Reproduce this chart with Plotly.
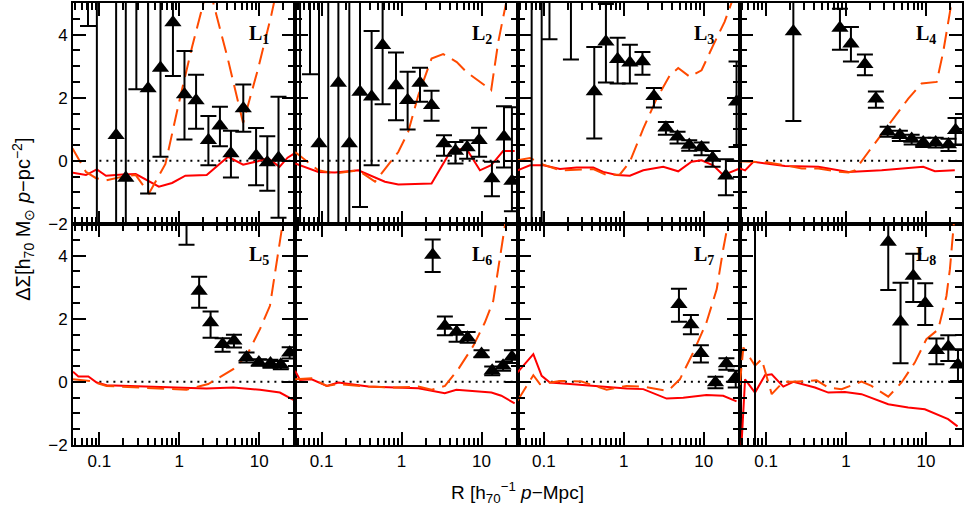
import numpy as np
import plotly.graph_objects as go
from plotly.subplots import make_subplots

RED = "#FF0000"
ORANGE = "#FF4A00"
BLACK = "#000000"

X_RANGE_LOG = [-1.33, 1.45]
Y_RANGE = [-2, 5]
ZERO_R = [0.1, 28.2]
ZERO_DS = [0, 0]
LABELS = ["L<sub>1</sub>", "L<sub>2</sub>", "L<sub>3</sub>", "L<sub>4</sub>",
          "L<sub>5</sub>", "L<sub>6</sub>", "L<sub>7</sub>", "L<sub>8</sub>"]

# ---- L1 ----
L1_R = [0.072, 0.093, 0.162, 0.214, 0.29, 0.407, 0.581, 0.832, 1.16, 1.62, 2.31, 3.22, 4.42, 6.31, 9.12, 12.6, 17.4]
L1_DS = [6, 7, 0.81, -0.54, 6, 2.29, 2.94, 4.38, 2.10, 1.91, 0.65, 1.11, 0.23, 1.66, 0.16, -0.05, 0.09]
L1_HI = [8, 12, 9, 9, 10, 8, 7, 6, 3.48, 2.73, 1.42, 1.71, 0.95, 2.42, 1.04, 0.78, 2.03]
L1_LO = [4.27, -9, -9, -9, 2.27, -1.03, 0.13, 2.69, 0.675, 1.02, -0.14, 0.46, -0.53, 0.92, -0.77, -0.95, -1.80]
L1_SOLID_R = [0.046, 0.068, 0.093, 0.121, 0.195, 0.285, 0.555, 0.811, 1.19, 2.20, 4.07, 6.28, 9.62, 12.8, 17.9, 22.6, 28.2]
L1_SOLID = [-0.37, -0.45, -0.27, -0.47, -0.43, -0.42, -0.82, -0.70, -0.47, -0.45, 0.13, -0.12, -0.01, 0.09, -0.19, 0.1, 0.25]
L1_DASH_R = [0.046, 0.068, 0.091, 0.121, 0.195, 0.285, 0.417, 0.67, 0.98, 1.44, 2.31, 4.07, 6.28, 9.62, 14.1, 22.6]
L1_DASH = [0.4, -0.35, -0.55, -0.62, -0.5, -0.45, -1.03, -0.1, 1.8, 3.6, 5.6, 3.2, 1.2, 2.9, 4.6, 7]

# ---- L2 ----
L2_R = [0.0537, 0.0715, 0.0927, 0.121, 0.162, 0.222, 0.302, 0.422, 0.579, 0.851, 1.19, 1.70, 2.37, 3.39, 4.72, 6.61, 9.33, 13.5, 19.1, 24.0]
L2_DS = [7, 6, 0.55, 7, 2.47, 0.55, 2.18, 2.03, 3.66, 2.39, 1.92, 2.47, 1.76, 0.55, 0.31, 0.42, 0.65, -0.56, 0.76, -0.64]
L2_HI = [12, 9, 9, 12, 9, 9, 8, 4.11, 7, 3.43, 2.82, 2.95, 2.22, 0.81, 0.60, 0.65, 1.05, -0.03, 1.73, 1.7]
L2_LO = [-9, 2.74, -9, -9, -9, -9, -1.46, -0.14, 1.79, 1.29, 0.99, 1.87, 1.27, 0.16, -0.08, 0.07, 0.13, -1.12, -0.21, -1.6]
L2_SOLID_R = [0.0465, 0.062, 0.091, 0.147, 0.288, 0.619, 0.91, 2.37, 4.17, 6.46, 9.55, 13.2, 18.6, 26.0]
L2_SOLID = [-0.08, -0.19, -0.35, -0.37, -0.30, -0.66, -0.75, -0.72, 0.34, 0.39, -0.30, -0.14, 0.31, 0.31]
L2_DASH_R = [0.0465, 0.062, 0.091, 0.147, 0.288, 0.465, 0.91, 1.21, 1.62, 2.37, 3.31, 4.90, 6.46, 13.2, 16.2, 20.4, 25.0]
L2_DASH = [0.28, 0.02, -0.30, -0.40, -0.30, -0.66, 0.28, 0.92, 2.08, 3.24, 3.38, 3.13, 2.82, 2.24, 3.77, 5.03, 7]

# ---- L3 ----
L3_R = [0.0703, 0.0938, 0.1175, 0.218, 0.427, 0.597, 0.836, 1.19, 1.71, 2.38, 3.36, 4.70, 6.58, 9.38, 12.9, 18.9, 25.7]
L3_DS = [7, 7, 6, 6, 2.20, 3.77, 3.22, 3.11, 3.15, 2.05, 1.05, 0.76, 0.50, 0.42, 0.09, -0.47, 1.87]
L3_HI = [12, 12, 9, 9, 3.61, 4.97, 3.90, 3.68, 3.45, 2.31, 1.23, 0.92, 0.65, 0.58, 0.31, 0.05, 3.15]
L3_LO = [-9, -9, 3.85, 3.21, 0.71, 2.48, 2.45, 2.45, 2.73, 1.69, 0.83, 0.55, 0.32, 0.18, -0.19, -1.09, 0.44]
L3_SOLID_R = [0.0468, 0.067, 0.0984, 0.159, 0.257, 0.415, 0.553, 0.813, 1.19, 1.75, 3.11, 4.79, 7.03, 9.38, 13.1, 17.5, 28.2]
L3_SOLID = [-0.30, -0.14, -0.14, -0.26, -0.21, -0.21, -0.35, -0.45, -0.47, -0.30, -0.19, -0.33, -0.03, 0.02, -0.14, -0.45, -0.24]
L3_DASH_R = [0.0468, 0.067, 0.0984, 0.159, 0.415, 0.61, 0.893, 1.19, 1.75, 2.57, 3.77, 4.79, 6.70, 9.38, 13.1, 18.2, 22.4, 28.2]
L3_DASH = [0.02, 0.09, -0.12, -0.30, -0.26, -0.45, -0.43, -0.03, 1.02, 1.97, 2.71, 2.94, 2.66, 2.87, 3.66, 4.40, 5.03, 6.2]

# ---- L4 ----
L4_R = [0.219, 0.838, 1.15, 1.72, 2.36, 3.31, 4.71, 6.61, 9.23, 13.2, 19.1, 23.4]
L4_DS = [4.10, 4.21, 3.71, 3.06, 1.97, 0.92, 0.81, 0.69, 0.58, 0.58, 0.52, 0.97]
L4_HI = [7, 4.82, 4.24, 3.37, 2.20, 1.08, 0.95, 0.83, 0.73, 0.73, 0.70, 1.36]
L4_LO = [1.26, 3.52, 3.15, 2.71, 1.68, 0.76, 0.63, 0.52, 0.44, 0.42, 0.31, 0.52]
L4_SOLID_R = [0.0468, 0.0545, 0.0692, 0.106, 0.172, 0.45, 1.07, 2.79, 9.23, 12.9, 22.9]
L4_SOLID = [-0.24, -0.30, -0.03, -0.08, -0.16, -0.19, -0.35, -0.30, -0.19, -0.33, -0.30]
L4_DASH_R = [0.0468, 0.106, 0.172, 0.279, 0.45, 0.728, 1.07, 1.29, 1.90, 3.37, 6.0, 8.81, 13.6, 16.4, 19.0, 20.9, 25.0]
L4_DASH = [-0.01, -0.05, -0.14, -0.24, -0.24, -0.33, -0.37, -0.30, 0.28, 1.13, 1.97, 2.45, 2.50, 3.45, 4.40, 5.03, 7]

# ---- L5 ----
L5_R = [1.23, 1.77, 2.46, 3.48, 4.82, 6.93, 9.89, 13.8, 18.6, 24.0]
L5_DS = [6, 2.88, 1.88, 1.19, 1.30, 0.77, 0.61, 0.58, 0.54, 0.92]
L5_HI = [9, 3.33, 2.23, 1.38, 1.49, 0.93, 0.72, 0.70, 0.66, 1.10]
L5_LO = [4.34, 2.35, 1.40, 0.95, 1.09, 0.61, 0.51, 0.45, 0.40, 0.74]
L5_SOLID_R = [0.0468, 0.0546, 0.0728, 0.0925, 0.123, 0.219, 0.573, 2.19, 4.72, 10.2, 18.1, 24.2, 28.2]
L5_SOLID = [0.32, 0.17, 0.17, -0.02, -0.11, -0.13, -0.18, -0.21, -0.18, -0.25, -0.34, -0.52, -0.6]
L5_DASH_R = [0.0468, 0.0762, 0.123, 0.39, 1.23, 2.30, 3.22, 4.72, 6.93, 10.2, 13.6, 16.4, 19.0, 21.9]
L5_DASH = [0.08, 0.03, -0.13, -0.20, -0.25, -0.07, 0.14, 0.40, 0.82, 1.67, 2.41, 3.67, 4.67, 5.8]

# ---- L6 ----
L6_R = [2.45, 3.48, 4.88, 6.70, 10.0, 13.6, 18.6, 24.0]
L6_DS = [4.02, 1.77, 1.58, 1.40, 0.88, 0.35, 0.51, 0.79]
L6_HI = [4.51, 2.07, 1.80, 1.58, 1.0, 0.49, 0.64, 1.0]
L6_LO = [3.48, 1.48, 1.27, 1.24, 0.78, 0.21, 0.35, 0.6]
L6_SOLID_R = [0.0465, 0.0537, 0.075, 0.116, 0.162, 0.384, 0.826, 1.62, 3.47, 4.85, 13.3, 17.7, 26.0]
L6_SOLID = [0.35, 0.06, 0.08, -0.13, -0.02, -0.15, -0.18, -0.20, -0.36, -0.25, -0.34, -0.44, -0.68]
L6_DASH_R = [0.0465, 0.075, 0.116, 0.162, 0.384, 0.826, 1.62, 2.38, 3.49, 5.12, 7.89, 11.0, 14.0, 16.2, 19.6, 22.9]
L6_DASH = [0.08, 0.11, -0.13, -0.07, -0.15, -0.18, -0.15, -0.25, -0.13, 0.40, 1.14, 1.88, 2.56, 3.57, 4.94, 6.5]

# ---- L7 ----
L7_R = [4.89, 6.90, 9.20, 14.0, 19.2, 25.1]
L7_DS = [2.46, 1.82, 0.91, -0.02, 0.58, 0.14]
L7_HI = [2.95, 2.12, 1.16, 0.16, 0.75, 0.35]
L7_LO = [1.90, 1.51, 0.61, -0.20, 0.38, -0.18]
L7_SOLID_R = [0.0468, 0.0738, 0.0938, 0.119, 0.212, 0.415, 1.08, 1.75, 3.43, 5.53, 10.8, 17.5, 25.7]
L7_SOLID = [0.30, 0.88, 0.19, -0.02, -0.07, -0.13, -0.21, -0.23, -0.53, -0.50, -0.42, -0.44, -0.62]
L7_DASH_R = [0.0468, 0.0738, 0.0893, 0.159, 0.296, 0.61, 1.08, 1.75, 3.43, 3.95, 5.02, 7.38, 10.8, 14.5, 17.5, 20.2, 25.0]
L7_DASH = [-0.60, 0.21, -0.07, 0.03, 0.01, -0.25, -0.13, -0.15, -0.28, -0.18, 0.08, 0.93, 1.88, 2.93, 4.2, 5.04, 7]

# ---- L8 ----
L8_R = [0.0726, 3.37, 4.80, 6.92, 9.77, 13.5, 19.0, 25.1]
L8_DS = [7, 4.43, 1.90, 3.35, 2.49, 1.00, 1.11, 0.54]
L8_HI = [12, 6, 3.14, 4.06, 3.12, 1.37, 1.48, 1.03]
L8_LO = [-9, 2.91, 0.59, 2.53, 1.80, 0.56, 0.66, 0.03]
L8_SOLID_R = [0.0468, 0.0545, 0.0726, 0.0968, 0.1175, 0.164, 0.219, 0.408, 0.60, 0.968, 1.56, 3.37, 5.98, 9.66, 18.9, 24.8]
L8_SOLID = [-3.0, 0.08, -0.34, 0.21, 0.24, -0.15, 0.0, -0.18, -0.34, -0.32, -0.39, -0.71, -0.81, -0.87, -1.18, -1.41]
L8_DASH_R = [0.0468, 0.0519, 0.0726, 0.0879, 0.1175, 0.164, 0.219, 0.428, 0.60, 0.879, 1.56, 2.08, 3.37, 4.94, 7.24, 10.1, 14.2, 18.0, 19.9, 21.9, 25.0]
L8_DASH = [-0.1, 1.09, 0.51, 0.72, -0.39, 0.0, 0.0, 0.05, -0.18, -0.23, 0.01, -0.13, -0.47, -0.02, 0.61, 1.35, 1.66, 2.72, 3.57, 4.94, 6.5]

PANELS = [
    (L1_R, L1_DS, L1_HI, L1_LO, L1_SOLID_R, L1_SOLID, L1_DASH_R, L1_DASH),
    (L2_R, L2_DS, L2_HI, L2_LO, L2_SOLID_R, L2_SOLID, L2_DASH_R, L2_DASH),
    (L3_R, L3_DS, L3_HI, L3_LO, L3_SOLID_R, L3_SOLID, L3_DASH_R, L3_DASH),
    (L4_R, L4_DS, L4_HI, L4_LO, L4_SOLID_R, L4_SOLID, L4_DASH_R, L4_DASH),
    (L5_R, L5_DS, L5_HI, L5_LO, L5_SOLID_R, L5_SOLID, L5_DASH_R, L5_DASH),
    (L6_R, L6_DS, L6_HI, L6_LO, L6_SOLID_R, L6_SOLID, L6_DASH_R, L6_DASH),
    (L7_R, L7_DS, L7_HI, L7_LO, L7_SOLID_R, L7_SOLID, L7_DASH_R, L7_DASH),
    (L8_R, L8_DS, L8_HI, L8_LO, L8_SOLID_R, L8_SOLID, L8_DASH_R, L8_DASH),
]

fig = make_subplots(rows=2, cols=4, horizontal_spacing=0, vertical_spacing=0)

minor_x = [m * 10.0 ** e for e in (-2, -1, 0, 1) for m in range(2, 10)]
minor_y = list(np.arange(-2, 5.01, 0.5))

for i, (r, ds, hi, lo, sr, sv, dr, dv) in enumerate(PANELS):
    row, col = i // 4 + 1, i % 4 + 1
    ds = np.array(ds)
    fig.add_scatter(x=ZERO_R, y=ZERO_DS, mode="lines", line=dict(color=BLACK, width=2, dash="2px,5px"),
                    row=row, col=col)
    fig.add_scatter(x=sr, y=sv, mode="lines", line=dict(color=RED, width=2), row=row, col=col)
    fig.add_scatter(x=dr, y=dv, mode="lines", line=dict(color=ORANGE, width=2, dash="17px,8px"),
                    row=row, col=col)
    fig.add_scatter(
        x=r, y=ds, mode="markers",
        marker=dict(symbol="triangle-up", size=15, color=BLACK),
        error_y=dict(type="data", symmetric=False, array=np.array(hi) - ds, arrayminus=ds - np.array(lo),
                     color=BLACK, thickness=2, width=8),
        row=row, col=col,
    )
    fig.add_annotation(text="<b>" + LABELS[i] + "</b>", x=1.0, y=4.0, showarrow=False,
                       font=dict(family="Liberation Serif", size=20, color=BLACK),
                       row=row, col=col)
    fig.update_xaxes(
        type="log", range=X_RANGE_LOG, tickmode="array", tickvals=[0.1, 1, 10],
        ticktext=["0.1", "1", "10"], ticks="inside", ticklen=13, tickwidth=1.5,
        minor=dict(tickvals=minor_x, ticks="inside", ticklen=7, tickwidth=1.5, tickcolor=BLACK),
        showticklabels=(row == 2), showline=True, linecolor=BLACK, linewidth=2, mirror="ticks",
        showgrid=False, zeroline=False, tickcolor=BLACK, row=row, col=col,
    )
    fig.update_yaxes(
        range=Y_RANGE, tickmode="array", tickvals=[-2, -1, 0, 1, 2, 3, 4],
        ticktext=["\u22122", "", "0", "", "2", "", "4"], ticks="inside", ticklen=13, tickwidth=1.5,
        minor=dict(tickvals=minor_y, ticks="inside", ticklen=7, tickwidth=1.5, tickcolor=BLACK),
        showticklabels=(col == 1), showline=True, linecolor=BLACK, linewidth=2, mirror="ticks",
        showgrid=False, zeroline=False, tickcolor=BLACK, row=row, col=col,
    )

fig.add_annotation(text="\u0394\u03a3[h<sub>70</sub> M<sub>\u2299</sub> <i>p</i>\u2212pc<sup>\u22122</sup>]",
                   xref="paper", yref="paper", x=-0.056, y=0.51, textangle=-90, showarrow=False,
                   font=dict(size=20, color=BLACK), xanchor="center", yanchor="middle")
fig.add_annotation(text="R [h<sub>70</sub><sup>\u22121</sup> <i>p</i>\u2212Mpc]",
                   xref="paper", yref="paper", x=0.5, y=-0.108, showarrow=False,
                   font=dict(size=19, color=BLACK), xanchor="center", yanchor="middle")

fig.update_layout(
    width=965, height=505,
    margin=dict(l=73, r=3, t=1, b=60),
    paper_bgcolor="white", plot_bgcolor="white",
    showlegend=False,
    font=dict(family="Liberation Sans", size=17, color=BLACK),
)

fig.write_html("out.html", config={"displayModeBar": False},
               post_script="document.body.style.margin='0';")
